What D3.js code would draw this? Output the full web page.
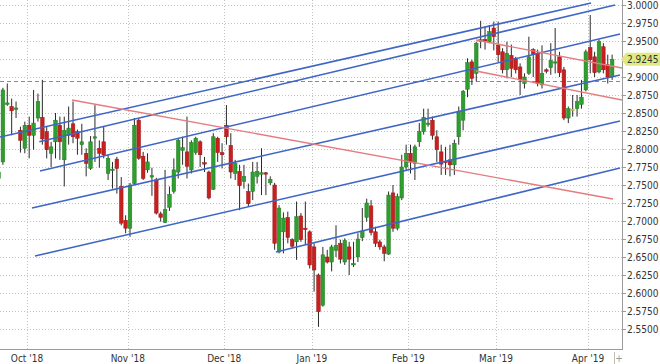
<!DOCTYPE html>
<html><head><meta charset="utf-8">
<script src="https://cdn.jsdelivr.net/npm/d3@7/dist/d3.min.js"></script>
<style>body{margin:0;background:#fff}svg{display:block}text{font-family:"DejaVu Sans Condensed","DejaVu Sans",sans-serif;font-size:10px;fill:#333}</style>
</head><body>
<script>
// ---- data (daily candles, index 0 = 20 Sep 2018 ... 140 = 8 Apr 2019) ----
const open  = [2.759,2.782,2.862,2.859,2.855,2.826,2.801,2.833,2.819,2.843,2.844,2.824,2.794,2.810,2.833,2.785,2.819,2.835,2.824,2.806,2.794,2.773,2.815,2.801,2.810,2.766,2.770,2.786,2.748,2.701,2.690,2.752,2.840,2.790,2.771,2.761,2.757,2.710,2.698,2.719,2.741,2.768,2.798,2.796,2.771,2.795,2.810,2.781,2.768,2.744,2.815,2.795,2.833,2.805,2.766,2.769,2.755,2.741,2.741,2.762,2.765,2.767,2.753,2.750,2.657,2.685,2.705,2.674,2.671,2.707,2.690,2.685,2.664,2.625,2.583,2.650,2.643,2.659,2.669,2.643,2.664,2.639,2.650,2.677,2.705,2.721,2.685,2.671,2.664,2.654,2.739,2.690,2.732,2.775,2.794,2.780,2.810,2.824,2.834,2.840,2.817,2.796,2.783,2.785,2.778,2.817,2.840,2.883,2.921,2.905,2.949,2.952,2.949,2.968,2.944,2.935,2.910,2.930,2.926,2.914,2.891,2.905,2.938,2.933,2.889,2.910,2.913,2.920,2.928,2.910,2.843,2.855,2.856,2.862,2.882,2.941,2.928,2.907,2.942,2.917,2.900];
const high  = [2.772,2.885,2.891,2.870,2.866,2.831,2.838,2.845,2.882,2.877,2.896,2.831,2.810,2.850,2.845,2.845,2.859,2.866,2.827,2.835,2.801,2.818,2.861,2.812,2.831,2.792,2.782,2.789,2.761,2.708,2.753,2.843,2.843,2.796,2.794,2.774,2.760,2.713,2.771,2.748,2.787,2.815,2.817,2.845,2.812,2.817,2.812,2.789,2.770,2.822,2.817,2.808,2.861,2.822,2.785,2.778,2.778,2.752,2.782,2.782,2.801,2.768,2.762,2.753,2.722,2.712,2.713,2.676,2.727,2.711,2.727,2.687,2.669,2.627,2.664,2.660,2.667,2.694,2.674,2.676,2.671,2.671,2.683,2.718,2.731,2.729,2.692,2.674,2.667,2.741,2.750,2.738,2.792,2.806,2.806,2.806,2.836,2.856,2.856,2.845,2.826,2.806,2.803,2.806,2.813,2.859,2.882,2.926,2.924,2.949,2.978,2.970,2.972,2.977,2.977,2.940,2.949,2.945,2.928,2.919,2.905,2.956,2.940,2.938,2.944,2.912,2.947,2.968,2.935,2.914,2.859,2.875,2.875,2.896,2.938,2.986,2.935,2.952,2.947,2.931,2.931];
const low   = [2.755,2.778,2.860,2.819,2.843,2.795,2.794,2.787,2.799,2.838,2.806,2.787,2.775,2.787,2.785,2.748,2.806,2.808,2.792,2.792,2.762,2.771,2.782,2.774,2.787,2.757,2.745,2.738,2.694,2.683,2.678,2.750,2.785,2.757,2.767,2.735,2.709,2.699,2.697,2.714,2.738,2.759,2.778,2.759,2.766,2.792,2.775,2.768,2.730,2.743,2.782,2.773,2.806,2.759,2.757,2.715,2.745,2.720,2.729,2.752,2.736,2.736,2.750,2.660,2.655,2.655,2.669,2.662,2.646,2.671,2.667,2.634,2.602,2.553,2.581,2.641,2.630,2.650,2.641,2.639,2.625,2.636,2.643,2.672,2.699,2.680,2.664,2.660,2.644,2.653,2.685,2.687,2.729,2.771,2.766,2.757,2.803,2.820,2.831,2.813,2.782,2.764,2.764,2.762,2.764,2.806,2.826,2.872,2.889,2.894,2.940,2.938,2.947,2.937,2.921,2.905,2.898,2.900,2.905,2.875,2.884,2.903,2.900,2.887,2.884,2.905,2.903,2.905,2.900,2.840,2.836,2.845,2.845,2.856,2.880,2.905,2.900,2.905,2.905,2.891,2.896];
const close = [2.768,2.882,2.864,2.853,2.857,2.812,2.833,2.819,2.836,2.866,2.814,2.799,2.803,2.840,2.810,2.826,2.829,2.817,2.815,2.810,2.780,2.810,2.817,2.794,2.792,2.787,2.772,2.773,2.697,2.690,2.750,2.833,2.787,2.759,2.782,2.763,2.711,2.705,2.716,2.737,2.771,2.812,2.802,2.776,2.809,2.815,2.792,2.779,2.732,2.817,2.795,2.792,2.817,2.768,2.780,2.749,2.762,2.724,2.768,2.769,2.767,2.765,2.758,2.669,2.718,2.704,2.677,2.665,2.706,2.674,2.688,2.639,2.632,2.574,2.653,2.643,2.664,2.666,2.647,2.673,2.647,2.641,2.675,2.686,2.725,2.684,2.669,2.664,2.655,2.736,2.690,2.734,2.775,2.794,2.782,2.803,2.824,2.844,2.836,2.819,2.799,2.779,2.781,2.778,2.808,2.852,2.880,2.920,2.898,2.947,2.952,2.950,2.963,2.956,2.931,2.910,2.933,2.912,2.910,2.896,2.900,2.928,2.931,2.891,2.905,2.908,2.923,2.921,2.906,2.843,2.856,2.855,2.866,2.872,2.935,2.924,2.906,2.949,2.910,2.900,2.9245];

const monthLabels = ["Oct '18","Nov '18","Dec '18","Jan '19","Feb '19","Mar '19","Apr '19"];
const monthStartIdx = [7,30,52,72,94,114,135];
const yTicks = [2.55,2.575,2.60,2.625,2.65,2.675,2.70,2.725,2.75,2.775,2.80,2.825,2.85,2.875,2.90,2.925,2.95,2.975,3.00];
const prevClose = 2.8945;
const lastPrice = 2.9245;
// trend lines: [idx1, val1, idx2, val2]
const blueLines = [
  [0.34,2.8167,135.2,3.0028],
  [9.30,2.8101,140.65,3.000],
  [9.46,2.7694,141.8,2.9597],
  [7.64,2.7181,141.8,2.9028],
  [8.32,2.6514,141.8,2.8389],
  [63.3,2.6569,141.8,2.7736]
];
const pinkLines = [
  [16.77,2.8681,140.2,2.7306],
  [108.94,2.9514,142.25,2.9125],
  [108.94,2.9083,142.25,2.8681]
];

// ---- chart ----
const W = 660, H = 364, plotR = 622, plotB = 349;
const svg = d3.select("body").append("svg").attr("width", W).attr("height", H);
const x = d3.scaleLinear().domain([0, 140]).range([-1.48, 612.14]);
const y = d3.scaleLinear().domain([2.55, 3.0]).range([329, 5]);

svg.append("defs").append("clipPath").attr("id","clip")
  .append("rect").attr("x",0).attr("y",0).attr("width",plotR).attr("height",plotB);

const grid = svg.append("g");
grid.selectAll("line.h").data(yTicks).join("line")
  .attr("x1",0).attr("x2",plotR)
  .attr("y1",d=>Math.round(y(d))+0.5).attr("y2",d=>Math.round(y(d))+0.5)
  .attr("stroke","#c4c4c4").attr("stroke-dasharray","1,2");
grid.selectAll("line.v").data(monthStartIdx).join("line")
  .attr("x1",d=>Math.round(x(d-0.5))+0.5).attr("x2",d=>Math.round(x(d-0.5))+0.5)
  .attr("y1",0).attr("y2",plotB)
  .attr("stroke","#c4c4c4").attr("stroke-dasharray","1,2");

const plot = svg.append("g").attr("clip-path","url(#clip)");

// previous-close dashed line
plot.append("line").attr("x1",0).attr("x2",plotR)
  .attr("y1",Math.round(y(prevClose))+0.5).attr("y2",Math.round(y(prevClose))+0.5)
  .attr("stroke","#8a8a8a").attr("stroke-dasharray","4,3");

const idx = d3.range(open.length);
const col = i => close[i] > open[i] ? "#2e9e2e" : (close[i] < open[i] ? "#c81f1f" : "#d8d84a");
const edge = i => close[i] > open[i] ? "#237a23" : (close[i] < open[i] ? "#9c1717" : "#b0b030");

plot.selectAll("line.wick").data(idx).join("line")
  .attr("x1",i=>x(i)).attr("x2",i=>x(i))
  .attr("y1",i=>y(high[i])).attr("y2",i=>y(low[i]))
  .attr("stroke","#2a2a2a").attr("stroke-width",1);

const bw = 3.6;
plot.selectAll("rect.body").data(idx).join("rect")
  .attr("x",i=>x(i)-bw/2).attr("width",bw)
  .attr("y",i=>y(Math.max(open[i],close[i])))
  .attr("height",i=>Math.max(1.2, Math.abs(y(open[i])-y(close[i]))))
  .attr("fill",col).attr("stroke",edge).attr("stroke-width",0.5);

// trend lines
plot.selectAll("line.blue").data(blueLines).join("line")
  .attr("x1",d=>x(d[0])).attr("y1",d=>y(d[1]))
  .attr("x2",d=>x(d[2])).attr("y2",d=>y(d[3]))
  .attr("stroke","#3f66c6").attr("stroke-width",1.6);
plot.selectAll("line.pink").data(pinkLines).join("line")
  .attr("x1",d=>x(d[0])).attr("y1",d=>y(d[1]))
  .attr("x2",d=>x(d[2])).attr("y2",d=>y(d[3]))
  .attr("stroke","#e57b7f").attr("stroke-width",1.4);

// axes
svg.append("line").attr("x1",plotR+0.5).attr("x2",plotR+0.5).attr("y1",0).attr("y2",plotB+1)
  .attr("stroke","#9a9a9a");
svg.append("line").attr("x1",0).attr("x2",plotR+1).attr("y1",plotB+0.5).attr("y2",plotB+0.5)
  .attr("stroke","#9a9a9a");
svg.selectAll("line.yt").data(yTicks).join("line")
  .attr("x1",plotR).attr("x2",plotR+4)
  .attr("y1",d=>Math.round(y(d))+0.5).attr("y2",d=>Math.round(y(d))+0.5)
  .attr("stroke","#9a9a9a");
svg.selectAll("text.yl").data(yTicks).join("text")
  .attr("x",627).attr("y",d=>y(d)).attr("dy","0.35em")
  .text(d=>d3.format(".4f")(d));

// x labels
svg.selectAll("text.xl").data(monthStartIdx).join("text")
  .attr("x",d=>x(d-0.5)).attr("y",362).attr("text-anchor","middle")
  .text((d,k)=>monthLabels[k]);

// small scroll marks bottom right
svg.append("line").attr("x1",614.5).attr("x2",614.5).attr("y1",352).attr("y2",364).attr("stroke","#bbb");
svg.append("text").attr("x",619).attr("y",362).attr("text-anchor","middle").style("fill","#999").text("+");

// last price tag
const ly = y(lastPrice);
svg.append("path")
  .attr("d",`M${plotR-1},${ly} L${plotR+4},${ly-6.5} L${W},${ly-6.5} L${W},${ly+6.5} L${plotR+4},${ly+6.5} Z`)
  .attr("fill","#e1e983");
svg.append("text").attr("x",627).attr("y",ly).attr("dy","0.35em").text(d3.format(".4f")(lastPrice));
</script>
</body></html>
